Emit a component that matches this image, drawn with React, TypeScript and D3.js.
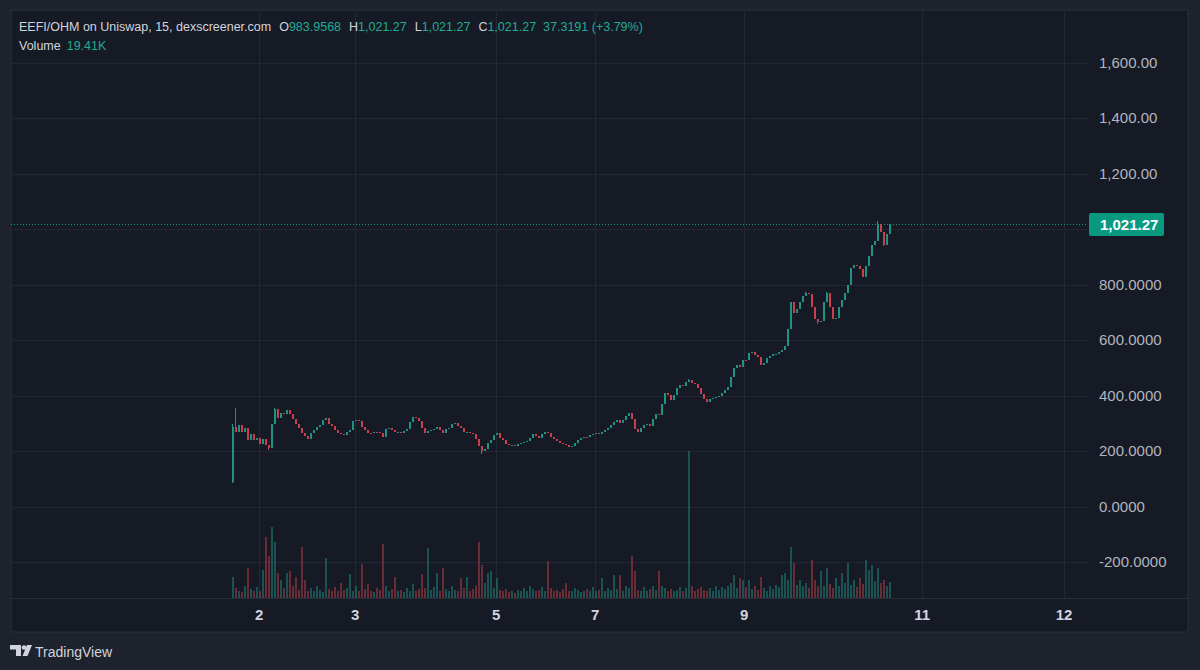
import React, { useEffect, useRef } from 'react';
import * as d3 from 'd3';

// 15m candles, grouped so that one drawn candle ~ one hour of trading
const firstOpen = 90;
const closes = [
  290, 270, 295, 270, 285, 240, 262, 240, 250, 228,
  245, 225, 212, 300, 352, 322, 338, 335, 350, 336,
  318, 298, 285, 268, 255, 246, 268, 278, 290, 296,
  312, 320, 300, 292, 276, 268, 262, 258, 270, 278,
  310, 314, 310, 290, 278, 268, 266, 272, 270, 268,
  254, 280, 286, 276, 270, 272, 268, 275, 282, 305,
  326, 322, 310, 285, 268, 274, 278, 280, 290, 276,
  268, 280, 286, 298, 304, 292, 286, 270, 272, 266,
  262, 245, 218, 200, 210, 232, 242, 260, 268, 250,
  240, 228, 222, 224, 220, 226, 230, 234, 238, 250,
  262, 256, 248, 262, 272, 266, 252, 246, 238, 232,
  226, 222, 216, 220, 232, 242, 250, 254, 252, 258,
  262, 266, 264, 270, 278, 286, 296, 306, 314, 304,
  312, 328, 338, 318, 280, 270, 286, 296, 300, 292,
  318, 336, 330, 372, 412, 402, 386, 404, 428, 440,
  436, 452, 458, 446, 444, 430, 408, 390, 380, 388,
  392, 396, 400, 410, 420, 432, 470, 500, 512, 505,
  530, 528, 556, 560, 548, 540, 512, 520, 536, 545,
  550, 552, 560, 566, 580, 640, 740, 700, 715, 740,
  760, 770, 768, 720, 676, 665, 672, 740, 770, 720,
  676, 680, 720, 746, 770, 800, 860, 872, 868, 858,
  830, 870, 905, 945, 960, 1020, 990, 945, 983.9568, 1021.27,
];

// wick extremes that stick out of the bodies: [bar, price]
const wickHighs = [[0, 300], [1, 355], [14, 358], [152, 462], [191, 776], [198, 776], [215, 1030]];
const wickLows = [[0, 85], [12, 205], [83, 190], [195, 660], [217, 940]];

// volume in thousands
const volumes = [
  25, 12, 9, 7, 14, 36, 11, 8, 13, 9,
  34, 73, 50, 86, 67, 30, 22, 12, 30, 32,
  14, 25, 10, 62, 22, 9, 12, 8, 14, 10,
  7, 48, 11, 9, 13, 8, 18, 10, 12, 29,
  9, 14, 8, 41, 11, 17, 9, 7, 12, 10,
  65, 14, 9, 11, 25, 8, 10, 7, 12, 9,
  17, 8, 11, 29, 12, 60, 10, 13, 30, 9,
  36, 11, 8, 14, 10, 9, 24, 12, 25, 9,
  11, 15, 67, 40, 18, 30, 32, 12, 24, 10,
  8, 11, 7, 9, 6, 10, 8, 12, 9, 14,
  11, 8, 10, 13, 9, 45, 12, 8, 10, 7,
  11, 18, 9, 8, 12, 10, 7, 9, 11, 8,
  13, 9, 10, 24, 8, 12, 10, 28, 11, 28,
  9, 14, 12, 51, 32, 10, 8, 13, 9, 11,
  14, 10, 32, 15, 12, 9, 11, 8, 10, 13,
  9, 12, 177, 14, 9, 11, 13, 10, 8, 12,
  9, 14, 10, 13, 11, 15, 18, 28, 12, 24,
  22, 13, 22, 11, 14, 10, 25, 12, 9, 14,
  11, 16, 13, 28, 30, 22, 61, 42, 16, 22,
  14, 18, 12, 46, 22, 15, 32, 14, 36, 17,
  12, 24, 15, 30, 18, 42, 16, 22, 13, 24,
  17, 46, 34, 40, 20, 36, 18, 22, 15, 19.41,
];

const dayLabels = ['2', '3', '5', '7', '9', '11', '12'];
const dayBars = [9, 41, 88, 121, 170.7, 230, 277.3];
const priceTicks = [-200, 0, 200, 400, 600, 800, 1200, 1400, 1600];
const lastPrice = 1021.27;
const lastChange = 37.3191;
const lastChangePct = 3.79;

const UP = '#22a08f';
const DOWN = '#dc4452';
const FONT = '"Liberation Sans", Arial, sans-serif';

const App = () => {
  const svgRef = useRef<SVGSVGElement>(null);

  useEffect(() => {
    document.body.style.margin = '0';
    const svg = d3.select(svgRef.current);
    svg.selectAll('*').remove();

    const pane = { left: 11, top: 10, right: 1188, bottom: 632 };
    const plot = { left: 11, top: 10, right: 1088, bottom: 598 };

    const candles = closes.map((c, i) => {
      const o = i === 0 ? firstOpen : closes[i - 1];
      const hi = wickHighs.find(w => w[0] === i);
      const lo = wickLows.find(w => w[0] === i);
      return {
        i, o, c,
        h: Math.max(o, c, hi ? hi[1] : -Infinity),
        l: Math.min(o, c, lo ? lo[1] : Infinity),
        v: volumes[i],
      };
    });

    // scales
    const x = d3.scaleLinear().domain([-73.7, 285.3]).range([plot.left, plot.right]);
    const y = d3.scaleLinear().domain([-328, 1791]).range([plot.bottom, plot.top]);
    const yVol = d3.scaleLinear()
      .domain([0, d3.max(volumes)])
      .range([plot.bottom, plot.bottom - (plot.bottom - plot.top) * 0.25]);

    // backgrounds
    svg.append('rect').attr('width', 1200).attr('height', 670).attr('fill', '#1e222d');
    svg.append('rect')
      .attr('x', pane.left).attr('y', pane.top)
      .attr('width', pane.right - pane.left).attr('height', pane.bottom - pane.top)
      .attr('fill', '#161a25').attr('stroke', '#2a2e39');

    // grid
    const grid = svg.append('g').attr('stroke', '#232733').attr('shape-rendering', 'crispEdges');
    grid.selectAll('line.h').data(priceTicks.concat([1000])).join('line')
      .attr('x1', plot.left).attr('x2', plot.right)
      .attr('y1', d => Math.round(y(d)) + 0.5).attr('y2', d => Math.round(y(d)) + 0.5);
    grid.selectAll('line.v').data(dayBars).join('line')
      .attr('x1', d => Math.round(x(d)) + 0.5).attr('x2', d => Math.round(x(d)) + 0.5)
      .attr('y1', plot.top).attr('y2', plot.bottom);

    // time axis separator
    svg.append('line')
      .attr('x1', pane.left).attr('x2', pane.right)
      .attr('y1', plot.bottom + 0.5).attr('y2', plot.bottom + 0.5)
      .attr('stroke', '#2a2e39');

    // volume
    svg.append('g').attr('shape-rendering', 'crispEdges')
      .selectAll('rect').data(candles).join('rect')
      .attr('x', d => Math.round(x(d.i)) - 0.5)
      .attr('width', 2)
      .attr('y', d => yVol(d.v))
      .attr('height', d => plot.bottom - yVol(d.v))
      .attr('fill', d => (d.c >= d.o ? UP : DOWN))
      .attr('opacity', 0.42);

    // candles
    const cg = svg.append('g').attr('shape-rendering', 'crispEdges').attr('opacity', 0.9);
    cg.selectAll('line').data(candles).join('line')
      .attr('x1', d => Math.round(x(d.i)) + 0.5).attr('x2', d => Math.round(x(d.i)) + 0.5)
      .attr('y1', d => y(d.h)).attr('y2', d => y(d.l))
      .attr('stroke', d => (d.c >= d.o ? UP : DOWN));
    cg.selectAll('rect').data(candles).join('rect')
      .attr('x', d => Math.round(x(d.i)) - 0.5)
      .attr('width', 2)
      .attr('y', d => y(Math.max(d.o, d.c)))
      .attr('height', d => Math.max(1, Math.abs(y(d.o) - y(d.c))))
      .attr('fill', d => (d.c >= d.o ? UP : DOWN));

    // last price line
    const yLast = Math.round(y(lastPrice)) + 0.5;
    svg.append('line')
      .attr('x1', plot.left).attr('x2', plot.right)
      .attr('y1', yLast).attr('y2', yLast)
      .attr('stroke', '#089981').attr('stroke-dasharray', '1,2');

    // price axis labels
    const fmt = (v: number) =>
      (v >= 1000 ? d3.format(',.2f')(v) : d3.format('.4f')(v)).replace('−', '-');
    svg.append('g')
      .selectAll('text').data(priceTicks).join('text')
      .attr('x', 1099).attr('y', d => y(d) + 5)
      .attr('fill', '#b2b5be')
      .style('font-family', FONT).style('font-size', '15px')
      .text(d => fmt(d));

    svg.append('rect')
      .attr('x', 1089).attr('y', yLast - 11.5)
      .attr('width', 75).attr('height', 23).attr('rx', 2)
      .attr('fill', '#089981');
    svg.append('text')
      .attr('x', 1100).attr('y', yLast + 5.5)
      .attr('fill', '#ffffff')
      .style('font-family', FONT).style('font-size', '15px').style('font-weight', 600)
      .text(fmt(lastPrice));

    // time axis labels
    svg.append('g')
      .selectAll('text').data(dayBars).join('text')
      .attr('x', d => x(d)).attr('y', 620)
      .attr('text-anchor', 'middle')
      .attr('fill', '#d1d4dc')
      .style('font-family', FONT).style('font-size', '15px').style('font-weight', 600)
      .text((d, i) => dayLabels[i]);

    // legend
    const last = candles[candles.length - 1];
    const legend = svg.append('text')
      .attr('x', 19).attr('y', 31)
      .style('font-family', FONT).style('font-size', '12.5px')
      .attr('fill', '#d1d4dc');
    legend.append('tspan').text('EEFI/OHM on Uniswap, 15, dexscreener.com');
    const ohlc: [string, string][] = [
      ['O', d3.format('.4f')(last.o)],
      ['H', fmt(last.h)],
      ['L', fmt(last.c)],
      ['C', fmt(last.c)],
    ];
    ohlc.forEach(([k, v]) => {
      legend.append('tspan').attr('dx', 8).attr('fill', '#d1d4dc').text(k);
      legend.append('tspan').attr('fill', '#22ab94').text(v);
    });
    legend.append('tspan').attr('dx', 7).attr('fill', '#22ab94')
      .text(`${d3.format('.4f')(lastChange)} (+${d3.format('.2f')(lastChangePct)}%)`);

    const volText = svg.append('text')
      .attr('x', 19).attr('y', 50)
      .style('font-family', FONT).style('font-size', '12.5px')
      .attr('fill', '#d1d4dc');
    volText.append('tspan').text('Volume');
    volText.append('tspan').attr('dx', 6).attr('fill', '#22ab94').text(`${last.v}K`);

    // TradingView logo
    const logo = svg.append('g').attr('fill', '#d1d4dc');
    logo.append('path').attr('d', 'M10,645 H21 V656 H16 V649.5 H10 Z');
    logo.append('circle').attr('cx', 24).attr('cy', 647.5).attr('r', 2.3);
    logo.append('path').attr('d', 'M27,645 H32 L27.5,656 H22.5 Z');
    svg.append('text')
      .attr('x', 35).attr('y', 657)
      .attr('fill', '#d1d4dc')
      .style('font-family', FONT).style('font-size', '14px')
      .text('TradingView');
  }, []);

  return <svg ref={svgRef} width={1200} height={670} style={{ display: 'block' }} />;
};

export default App;
